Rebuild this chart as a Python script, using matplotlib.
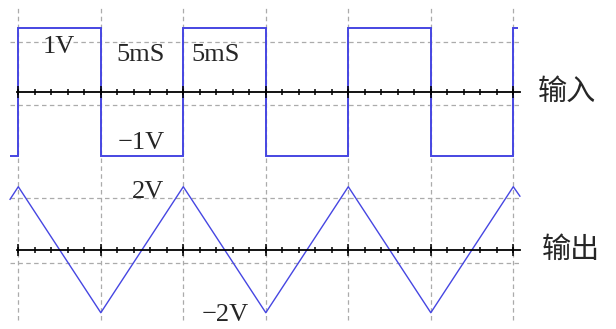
import numpy as np
import matplotlib
matplotlib.use('Agg')
import matplotlib.pyplot as plt

# time in ms, voltage in V
sq_edges = [-0.5, 0, 5, 10, 15, 20, 25, 30, 30.3]
sq_levels = [-1, 1, -1, 1, -1, 1, -1, 1]

tri_t = [-0.5, 0, 5, 10, 15, 20, 25, 30, 30.4]
tri_v = [1.6, 2, -2, 2, -2, 2, -2, 2, 1.7]

grid_t = [0, 5, 10, 15, 20, 25, 30]

blue = '#4646e2'
gray = '#ababab'
txt = '#262626'
serif = 'Liberation Serif'
cjk = ['Noto Sans CJK SC', 'DejaVu Sans']

xlim = (-18.3 / 16.5, (616 - 18.3) / 16.5)

fig = plt.figure(figsize=(6.16, 3.29), dpi=100)
bg = fig.add_axes([0, 0, 1, 1])
top = fig.add_axes([0, 0, 1, 1])
bot = fig.add_axes([0, 0, 1, 1])
for ax in (bg, top, bot):
    ax.set_xlim(*xlim)
    ax.axis('off')
    ax.patch.set_alpha(0)
bg.set_ylim(0, 1)
top.set_ylim(-3.714, 1.4385)
bot.set_ylim(-2.517, 7.927)

dash = (0, (3.6, 2.7))
# vertical grid across both panels
for t in grid_t:
    bg.axvline(t, ymin=0.027, ymax=0.976, color=gray, lw=0.9, ls=dash)

# horizontal grid lines
for ax, ys in ((top, [0.78, -0.206]), (bot, [1.64, -0.41])):
    for y in ys:
        ax.hlines(y, -0.5, 30.4, color=gray, lw=0.9, ls=dash)

# axis lines with ticks
minor = np.arange(0, 31, 1)
for ax in (top, bot):
    ax.plot([-0.1, 30.4], [0, 0], color='black', lw=1.3, zorder=4)
    ax.plot(minor, np.zeros(len(minor)), ls='none', marker='|', ms=4.5,
            mew=1.1, color='black', zorder=4)
    ax.plot(grid_t, np.zeros(len(grid_t)), ls='none', marker='|', ms=8,
            mew=1.1, color='black', zorder=4)

# waveforms
top.stairs(sq_levels, sq_edges, color=blue, lw=1.4, baseline=None, zorder=3)
bot.plot(tri_t, tri_v, color=blue, lw=1.0, zorder=3)

# labels
fs = 19
top.text(2.44, 0.70, '1V', fontsize=fs, family=serif, color=txt, ha='center', va='center')
top.text(7.38, 0.577, '5mS', fontsize=fs, family=serif, color=txt, ha='center', va='center')
top.text(11.98, 0.577, '5mS', fontsize=fs, family=serif, color=txt, ha='center', va='center')
top.text(7.44, -0.80, '\u22121V', fontsize=fs, family=serif, color=txt, ha='center', va='center')
top.text(33.25, 0.0, '输入', fontsize=21, family=cjk, color=txt, ha='center', va='center')

bot.text(7.86, 1.83, '2V', fontsize=fs, family=serif, color=txt, ha='center', va='center')
bot.text(12.53, -2.07, '\u22122V', fontsize=fs, family=serif, color=txt, ha='center', va='center')
bot.text(33.5, 0.0, '输出', fontsize=21, family=cjk, color=txt, ha='center', va='center')

fig.savefig('out.png', dpi=100)
